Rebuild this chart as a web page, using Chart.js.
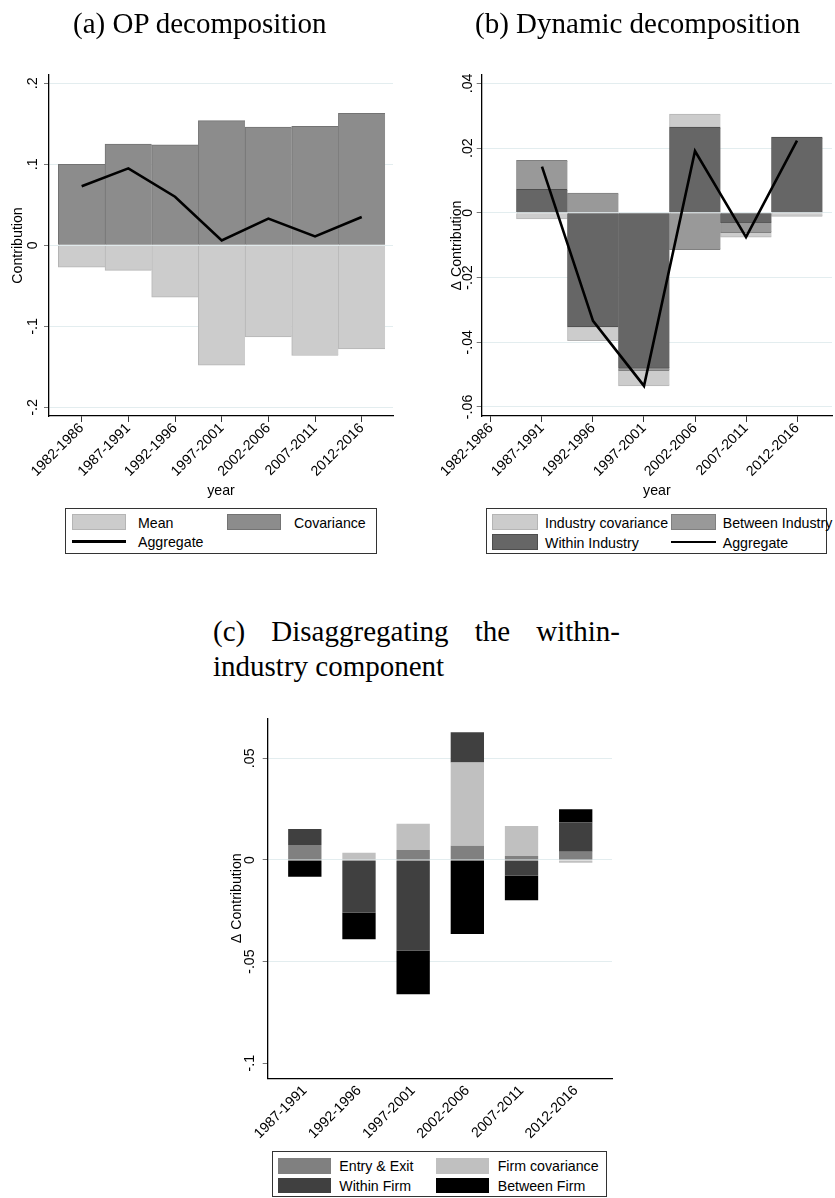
<!DOCTYPE html>
<html>
<head>
<meta charset="utf-8">
<script src="https://cdn.jsdelivr.net/npm/chart.js@4.4.1/dist/chart.umd.min.js"></script>
<style>
  html, body { margin: 0; padding: 0; background: #fff; }
  #page { position: relative; width: 835px; height: 1198px; overflow: hidden; background: #fff;
          font-family: 'Liberation Sans', Arial, sans-serif; }
  canvas { position: absolute; }
  .ttl { position: absolute; font-family: 'Liberation Serif', 'Times New Roman', serif; font-size: 29px;
         line-height: 29px; color: #000; white-space: nowrap; }
  .ttl.wrap { white-space: normal; text-align: justify; width: 407px; line-height: 35px; }
  .lg { position: absolute; border: 1px solid #333; box-sizing: border-box; background: #fff; }
  .lg .sw { position: absolute; box-sizing: border-box; }
  .lg .ln { position: absolute; background: #000; }
  .lg .tx { position: absolute; font-size: 14.2px; line-height: 16px; white-space: nowrap; color: #000; }
</style>
</head>
<body>
<div id="page">
  <canvas id="chartOP" width="410" height="500" style="left:0;top:0"></canvas>
  <canvas id="chartDyn" width="415" height="500" style="left:420px;top:0"></canvas>
  <canvas id="chartFirm" width="420" height="450" style="left:200px;top:700px"></canvas>

  <div class="ttl" style="left:73px;top:9px">(a) OP decomposition</div>
  <div class="ttl" style="left:475px;top:9px">(b) Dynamic decomposition</div>
  <div class="ttl wrap" style="left:213px;top:614px">(c) Disaggregating the within-industry component</div>

  <div id="legendOP" class="lg"></div>
  <div id="legendDyn" class="lg"></div>
  <div id="legendFirm" class="lg"></div>
</div>

<script>
// Five-year periods
const periods = ['1982-1986', '1987-1991', '1992-1996', '1997-2001', '2002-2006', '2007-2011', '2012-2016'];
const firmPeriods = ['1987-1991', '1992-1996', '1997-2001', '2002-2006', '2007-2011', '2012-2016'];

// (a) Olley-Pakes decomposition (levels)
const opMean = [-0.027, -0.031, -0.064, -0.148, -0.113, -0.136, -0.128];
const opCovariance = [0.100, 0.125, 0.124, 0.154, 0.146, 0.147, 0.163];
const opAggregate = [0.073, 0.095, 0.060, 0.006, 0.033, 0.011, 0.035];
const opTicks = [-0.2, -0.1, 0, 0.1, 0.2];
const opTickLabels = ['-.2', '-.1', '0', '.1', '.2'];

// (b) Dynamic decomposition (changes)
const dynWithin = [null, 0.0073, -0.0353, -0.0481, 0.0265, -0.0032, 0.0234];
const dynBetween = [null, 0.0089, 0.0061, -0.0007, -0.0114, -0.0029, 0];
const dynIndCov = [null, -0.0019, -0.0042, -0.0047, 0.0040, -0.0014, -0.0011];
const dynAggregate = [null, 0.0143, -0.0334, -0.0535, 0.0191, -0.0075, 0.0223];
const dynTicks = [-0.06, -0.04, -0.02, 0, 0.02, 0.04];
const dynTickLabels = ['-.06', '-.04', '-.02', '0', '.02', '.04'];

// (c) Within-industry component split by firm
const firmEntryExit = [0.0074, 0, 0.0049, 0.0070, 0.0020, 0.0041];
const firmCovariance = [0, 0.0036, 0.0129, 0.0410, 0.0147, -0.0013];
const firmWithin = [0.0079, -0.0259, -0.0446, 0.0148, -0.0077, 0.0144];
const firmBetween = [-0.0082, -0.0131, -0.0214, -0.0364, -0.0121, 0.0064];
const firmTicks = [-0.1, -0.05, 0, 0.05];
const firmTickLabels = ['-.1', '-.05', '0', '.05'];

Chart.defaults.font.family = "'Liberation Sans', Arial, Helvetica, sans-serif";
Chart.defaults.font.size = 14.2;
Chart.defaults.color = '#000';

const GRID = '#e3edef';

function valueAxis(o) {
  return {
    type: 'linear', stacked: true, min: o.min, max: o.max, beginAtZero: false,
    afterBuildTicks: s => { s.ticks = o.ticks.map(v => ({ value: v })); },
    afterFit: s => { s.width = o.width; },
    ticks: {
      autoSkip: false, minRotation: 90, maxRotation: 90, crossAlign: 'center', padding: o.tickPad,
      callback: (v, i) => o.labels[i]
    },
    grid: {
      color: ctx => (o.noGridAt !== undefined && ctx.tick && ctx.tick.value === o.noGridAt) ? 'rgba(0,0,0,0)' : GRID,
      lineWidth: 1, drawTicks: true, tickLength: 5, tickColor: '#777'
    },
    border: { display: true, color: '#000', width: 1.3 },
    title: { display: true, text: o.title, padding: { top: o.titlePad, bottom: 0 } }
  };
}

function periodAxis(o) {
  return {
    type: 'linear', stacked: true, offset: false, min: o.min, max: o.max,
    afterBuildTicks: s => { s.ticks = o.labels.map((_, i) => ({ value: i })); },
    afterFit: s => { s.height = o.height; },
    ticks: { autoSkip: false, minRotation: 45, maxRotation: 45, padding: o.tickPad,
             callback: (v, i) => o.labels[i] },
    grid: { offset: false, display: true, drawOnChartArea: false, drawTicks: o.drawTicks,
            tickLength: 6, tickColor: '#333' },
    border: { display: true, color: '#000', width: 1.3 },
    title: o.title ? { display: true, text: o.title, padding: { top: 0, bottom: o.titlePad } } : { display: false }
  };
}

function bar(label, data, fill, edge) {
  return {
    type: 'bar', label, data, backgroundColor: fill, borderColor: edge,
    borderWidth: edge ? { top: 1, bottom: 1, left: 1, right: 0 } : 0,
    borderSkipped: 'start', categoryPercentage: 1, barPercentage: 1, order: 1
  };
}

function aggregateLine(data) {
  return {
    type: 'line', label: 'Aggregate', data, borderColor: '#000', borderWidth: 2.6,
    pointRadius: 0, tension: 0, fill: false, spanGaps: false, order: -1
  };
}

const common = {
  responsive: false, animation: false, devicePixelRatio: 1, events: [],
  plugins: { legend: { display: false }, tooltip: { enabled: false }, title: { display: false } }
};

// (a)
const chartOP = new Chart(document.getElementById('chartOP'), {
  type: 'bar',
  data: {
    labels: periods.map((_, i) => i),
    datasets: [
      aggregateLine(opAggregate),
      bar('Mean', opMean, '#cccccc', '#b5b5b5'),
      bar('Covariance', opCovariance, '#8c8c8c', '#737373')
    ]
  },
  options: Object.assign({}, common, {
    layout: { padding: { top: 75, right: 17, bottom: 0, left: 0 } },
    scales: {
      x: periodAxis({ labels: periods, min: -0.70, max: 6.67, height: 84, tickPad: -2, drawTicks: true,
                      title: 'year', titlePad: 0.5 }),
      y: valueAxis({ ticks: opTicks, labels: opTickLabels, min: -0.2107, max: 0.2103, width: 49,
                     tickPad: 2.4, title: 'Contribution', titlePad: 9.8 })
    }
  })
});

// (b)
const chartDyn = new Chart(document.getElementById('chartDyn'), {
  type: 'bar',
  data: {
    labels: periods.map((_, i) => i),
    datasets: [
      aggregateLine(dynAggregate),
      bar('Within Industry', dynWithin, '#666666', '#4d4d4d'),
      bar('Between Industry', dynBetween, '#999999', '#808080'),
      bar('Industry covariance', dynIndCov, '#cccccc', '#b5b5b5')
    ]
  },
  options: Object.assign({}, common, {
    layout: { padding: { top: 75, right: 3, bottom: 0, left: 0 } },
    scales: {
      x: periodAxis({ labels: periods, min: -0.182, max: 6.686, height: 84, tickPad: -2, drawTicks: true,
                      title: 'year', titlePad: 0.5 }),
      y: valueAxis({ ticks: dynTicks, labels: dynTickLabels, min: -0.0628, max: 0.0426, width: 61.7,
                     tickPad: -3.8, title: '\u0394 Contribution', titlePad: 28.2 })
    }
  })
});

// (c)
function firmBar(label, data, fill) {
  const d = bar(label, data, fill, null);
  d.barPercentage = 0.615;
  return d;
}
const chartFirm = new Chart(document.getElementById('chartFirm'), {
  type: 'bar',
  data: {
    labels: firmPeriods.map((_, i) => i),
    datasets: [
      firmBar('Entry & Exit', firmEntryExit, '#808080'),
      firmBar('Firm covariance', firmCovariance, '#c0c0c0'),
      firmBar('Within Firm', firmWithin, '#404040'),
      firmBar('Between Firm', firmBetween, '#000000')
    ]
  },
  options: Object.assign({}, common, {
    layout: { padding: { top: 18.3, right: 8, bottom: 0, left: 0 } },
    scales: {
      x: periodAxis({ labels: firmPeriods, min: -0.685, max: 5.67, height: 71.7, tickPad: 4, drawTicks: false }),
      y: valueAxis({ ticks: firmTicks, labels: firmTickLabels, min: -0.1074, max: 0.0697, width: 67.7,
                     tickPad: 0.4, title: '\u0394 Contribution', titlePad: 28.3, noGridAt: -0.1 })
    }
  })
});

// Two-column legends built from each chart's datasets
function buildLegend(el, chart, order, box) {
  Object.assign(el.style, { left: box.left + 'px', top: box.top + 'px', width: box.width + 'px', height: box.height + 'px' });
  order.forEach((name, k) => {
    const ds = chart.data.datasets.find(d => d.label === name);
    const row = Math.floor(k / 2), col = k % 2;
    const cy = box.rows[row];
    const sx = box.cols[col][0], tx = box.cols[col][1];
    const mark = document.createElement('div');
    if (ds.type === 'line') {
      mark.className = 'ln';
      Object.assign(mark.style, { left: sx + 'px', top: (cy - 1.3) + 'px', width: box.swW + 'px', height: '2.6px' });
    } else {
      mark.className = 'sw';
      Object.assign(mark.style, { left: sx + 'px', top: (cy - box.swH / 2) + 'px', width: box.swW + 'px',
        height: box.swH + 'px', background: ds.backgroundColor,
        border: '1px solid ' + (ds.borderColor || ds.backgroundColor) });
    }
    el.appendChild(mark);
    const t = document.createElement('div');
    t.className = 'tx';
    t.textContent = name;
    Object.assign(t.style, { left: tx + 'px', top: (cy - 8 + (box.textDy || 0)) + 'px' });
    el.appendChild(t);
  });
}

buildLegend(document.getElementById('legendOP'), chartOP, ['Mean', 'Covariance', 'Aggregate'],
  { left: 65, top: 508, width: 312, height: 46, swW: 54, swH: 15.5, rows: [13, 32.7],
    cols: [[6, 72], [161, 228]], textDy: 0.5 });
buildLegend(document.getElementById('legendDyn'), chartDyn,
  ['Industry covariance', 'Between Industry', 'Within Industry', 'Aggregate'],
  { left: 486, top: 508, width: 341, height: 46, swW: 45.4, swH: 15.5, rows: [13, 33],
    cols: [[5.3, 58], [183.7, 235.7]], textDy: 0.5 });
buildLegend(document.getElementById('legendFirm'), chartFirm,
  ['Entry & Exit', 'Firm covariance', 'Within Firm', 'Between Firm'],
  { left: 272, top: 1151, width: 335, height: 46, swW: 52.7, swH: 15.4, rows: [14, 33.8],
    cols: [[5.3, 66.3], [163, 224.7]], textDy: 0.3 });
</script>
</body>
</html>
